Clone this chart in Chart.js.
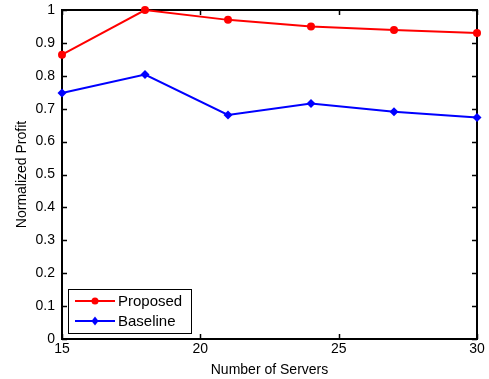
<!DOCTYPE html>
<html><head><meta charset="utf-8">
<script src="https://cdn.jsdelivr.net/npm/chart.js@4/dist/chart.umd.min.js"></script>
<style>html,body{margin:0;padding:0;background:#fff}#w{width:489px;height:379px}</style>
</head><body><div id="w"><canvas id="c" width="489" height="379"></canvas></div>
<script>
const servers = [15, 18, 21, 24, 27, 30];
const proposed = [0.864, 1.0, 0.97, 0.95, 0.939, 0.93];
const baseline = [0.748, 0.804, 0.681, 0.716, 0.691, 0.673];
const xTicks = [15, 20, 25, 30];
const yTicks = [0, 0.1, 0.2, 0.3, 0.4, 0.5, 0.6, 0.7, 0.8, 0.9, 1];

const FONT = 'Liberation Sans, Arial, Helvetica, sans-serif';

const boxPlugin = {
  id: 'box',
  beforeDatasetsDraw(chart) {
    const {ctx, chartArea: a, scales: {x, y}} = chart;
    ctx.save();
    ctx.strokeStyle = '#000';
    ctx.lineWidth = 2;
    ctx.strokeRect(a.left, a.top, a.right - a.left, a.bottom - a.top);
    ctx.lineWidth = 1.5;
    const L = 5;
    ctx.beginPath();
    yTicks.forEach(v => {
      const p = Math.round(y.getPixelForValue(v)) + 0.5;
      ctx.moveTo(a.left, p); ctx.lineTo(a.left + L, p);
      ctx.moveTo(a.right, p); ctx.lineTo(a.right - L, p);
    });
    xTicks.forEach(v => {
      const p = Math.round(x.getPixelForValue(v)) + 0.5;
      ctx.moveTo(p, a.bottom); ctx.lineTo(p, a.bottom - L);
      ctx.moveTo(p, a.top); ctx.lineTo(p, a.top + L);
    });
    ctx.stroke();
    ctx.restore();
  },
  afterDraw(chart) {
    const {ctx, chartArea: a} = chart;
    const bx = a.left + 6, by = a.bottom - 50, bw = 123, bh = 44;
    ctx.save();
    ctx.fillStyle = '#fff';
    ctx.fillRect(bx, by, bw, bh);
    ctx.strokeStyle = '#000';
    ctx.lineWidth = 1;
    ctx.strokeRect(bx + 0.5, by + 0.5, bw, bh);
    chart.data.datasets.forEach((ds, i) => {
      const cy = by + 12 + i * 20;
      ctx.strokeStyle = ds.borderColor;
      ctx.lineWidth = 2;
      ctx.beginPath();
      ctx.moveTo(bx + 7, cy); ctx.lineTo(bx + 47, cy);
      ctx.stroke();
      ctx.fillStyle = ds.borderColor;
      const mx = bx + 27;
      ctx.beginPath();
      if (ds.pointStyle === 'circle') {
        ctx.arc(mx, cy, 3.5, 0, Math.PI * 2);
      } else {
        ctx.moveTo(mx, cy - 4.5); ctx.lineTo(mx + 3.5, cy); ctx.lineTo(mx, cy + 4.5); ctx.lineTo(mx - 3.5, cy); ctx.closePath();
      }
      ctx.fill();
      ctx.fillStyle = '#000';
      ctx.font = '15px ' + FONT;
      ctx.textBaseline = 'middle';
      ctx.fillText(ds.label, bx + 50, cy + 1);
    });
    ctx.restore();
  }
};

new Chart(document.getElementById('c'), {
  type: 'line',
  data: {
    datasets: [
      { label: 'Proposed', data: servers.map((s, i) => ({x: s, y: proposed[i]})),
        borderColor: '#ff0000', backgroundColor: '#ff0000', borderWidth: 2,
        pointStyle: 'circle', pointRadius: 4, pointBorderWidth: 0, clip: false },
      { label: 'Baseline', data: servers.map((s, i) => ({x: s, y: baseline[i]})),
        borderColor: '#0000ff', backgroundColor: '#0000ff', borderWidth: 2,
        pointStyle: 'rectRot', pointRadius: 4.5, pointBorderWidth: 0, clip: false }
    ]
  },
  options: {
    responsive: false, animation: false,
    layout: { padding: { top: 10, right: 12, left: 14, bottom: 0 } },
    plugins: { legend: { display: false }, tooltip: { enabled: false } },
    scales: {
      x: {
        type: 'linear', min: 15, max: 30,
        afterBuildTicks: s => { s.ticks = xTicks.map(v => ({value: v})); },
        afterFit: s => { s.height = 40; s.paddingLeft = 0; s.paddingRight = 0; },
        grid: { display: false, drawTicks: false },
        border: { display: false },
        ticks: { color: '#000', font: { family: FONT, size: 14 }, padding: 2, maxRotation: 0 },
        title: { display: true, text: 'Number of Servers', color: '#000', font: { family: FONT, size: 14 }, padding: { top: 0, bottom: 0 } }
      },
      y: {
        min: 0, max: 1,
        afterBuildTicks: s => { s.ticks = yTicks.map(v => ({value: v})); },
        afterFit: s => { s.width = 48; s.paddingTop = 0; s.paddingBottom = 0; },
        grid: { display: false, drawTicks: false },
        border: { display: false },
        ticks: { color: '#000', font: { family: FONT, size: 14 }, padding: 7, callback: v => String(v) },
        title: { display: true, text: 'Normalized Profit', color: '#000', font: { family: FONT, size: 14 }, padding: { top: 0, bottom: 0 } }
      }
    }
  },
  plugins: [boxPlugin]
});
</script></body></html>
